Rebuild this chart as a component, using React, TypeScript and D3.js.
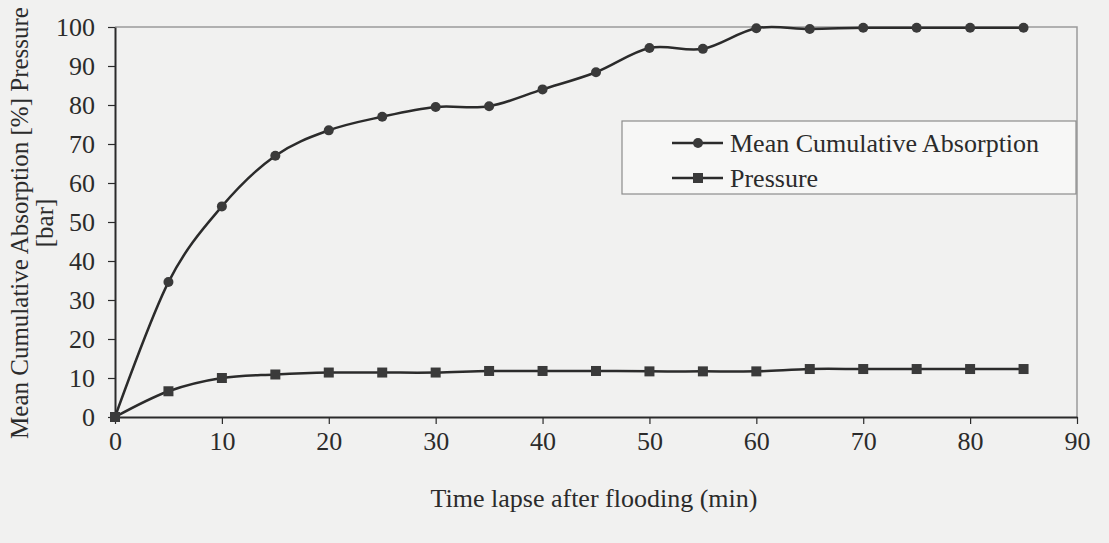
import React, { useEffect, useRef } from 'react';
import * as d3 from 'd3';

// time lapse after flooding (min)
const minutes = [0, 5, 10, 15, 20, 25, 30, 35, 40, 45, 50, 55, 60, 65, 70, 75, 80, 85];
// mean cumulative absorption [%]
const absorption = [0, 34.6, 54, 67, 73.5, 77, 79.5, 79.7, 84, 88.4, 94.6, 94.4, 99.7, 99.5, 99.8, 99.8, 99.8, 99.8];
// pressure [bar]
const pressure = [0, 6.6, 10, 10.9, 11.4, 11.4, 11.4, 11.8, 11.8, 11.8, 11.7, 11.7, 11.7, 12.3, 12.3, 12.3, 12.3, 12.3];

const xTicks = [0, 10, 20, 30, 40, 50, 60, 70, 80, 90];
const yTicks = [0, 10, 20, 30, 40, 50, 60, 70, 80, 90, 100];
const seriesNames = ['Mean Cumulative Absorption', 'Pressure'];

const W = 1109;
const H = 543;
const FONT = '"Liberation Serif", "Times New Roman", serif';
const INK = '#2b2b2b';

const App: React.FC = () => {
  const svgRef = useRef<SVGSVGElement>(null);

  useEffect(() => {
    if (!svgRef.current) return;
    const svg = d3.select(svgRef.current);
    svg.selectAll('*').remove();

    const margin = { top: 27, right: 32, bottom: 126, left: 115 };
    const innerWidth = W - margin.left - margin.right;
    const innerHeight = H - margin.top - margin.bottom;

    svg.append('rect').attr('width', W).attr('height', H).attr('fill', '#f1f1f0');

    const g = svg.append('g').attr('transform', `translate(${margin.left},${margin.top})`);

    const x = d3.scaleLinear().domain([0, 90]).range([0, innerWidth]);
    const y = d3.scaleLinear().domain([0, 100]).range([innerHeight, 0]);

    // plot frame (top and right)
    g.append('path')
      .attr('d', `M0,0H${innerWidth}V${innerHeight}`)
      .attr('fill', 'none')
      .attr('stroke', '#9a9a9a')
      .attr('stroke-width', 1.5);

    // Axes
    const xAxis = g.append('g')
      .attr('transform', `translate(0,${innerHeight})`)
      .call(d3.axisBottom(x).tickValues(xTicks).tickSize(7).tickSizeOuter(0).tickPadding(8));
    const yAxis = g.append('g')
      .call(d3.axisLeft(y).tickValues(yTicks).tickSize(7).tickSizeOuter(0).tickPadding(13));

    [xAxis, yAxis].forEach(ax => {
      ax.select('.domain').attr('stroke', INK).attr('stroke-width', 2);
      ax.selectAll('.tick line').attr('stroke', INK).attr('stroke-width', 1.2);
      ax.selectAll('text')
        .attr('fill', INK)
        .style('font-family', FONT)
        .style('font-size', '26px');
    });
    yAxis.selectAll('text').attr('dy', '0.33em');

    const line = d3.line<number>()
      .x((_, i) => x(minutes[i]))
      .y(d => y(d))
      .curve(d3.curveCatmullRom.alpha(0));

    // Absorption
    g.append('path')
      .datum(absorption)
      .attr('d', line)
      .attr('fill', 'none')
      .attr('stroke', INK)
      .attr('stroke-width', 2.5);
    g.selectAll('.dot')
      .data(absorption)
      .enter()
      .append('circle')
      .attr('class', 'dot')
      .attr('cx', (_, i) => x(minutes[i]))
      .attr('cy', d => y(d))
      .attr('r', 5)
      .attr('fill', '#3a3a3a');

    // Pressure
    g.append('path')
      .datum(pressure)
      .attr('d', line)
      .attr('fill', 'none')
      .attr('stroke', INK)
      .attr('stroke-width', 2.5);
    g.selectAll('.sq')
      .data(pressure)
      .enter()
      .append('rect')
      .attr('class', 'sq')
      .attr('x', (_, i) => x(minutes[i]) - 5)
      .attr('y', d => y(d) - 5)
      .attr('width', 10)
      .attr('height', 10)
      .attr('fill', '#3a3a3a');

    // Legend
    const legend = svg.append('g').attr('transform', 'translate(622,121)');
    legend.append('rect')
      .attr('width', 454)
      .attr('height', 73)
      .attr('fill', '#f7f7f6')
      .attr('stroke', '#8c8c8c')
      .attr('stroke-width', 1.2);
    seriesNames.forEach((name, i) => {
      const row = legend.append('g').attr('transform', `translate(0,${22 + i * 35})`);
      row.append('line')
        .attr('x1', 50).attr('x2', 101)
        .attr('stroke', INK).attr('stroke-width', 2.5);
      if (i === 0) {
        row.append('circle').attr('cx', 76).attr('r', 5).attr('fill', '#3a3a3a');
      } else {
        row.append('rect').attr('x', 71).attr('y', -5).attr('width', 10).attr('height', 10).attr('fill', '#3a3a3a');
      }
      row.append('text')
        .attr('x', 108)
        .attr('dy', '0.33em')
        .attr('fill', INK)
        .style('font-family', FONT)
        .style('font-size', '26px')
        .text(name);
    });

    // Axis titles
    svg.append('text')
      .attr('x', margin.left + innerWidth / 2 - 2)
      .attr('y', 507)
      .attr('text-anchor', 'middle')
      .attr('fill', INK)
      .style('font-family', FONT)
      .style('font-size', '26px')
      .text('Time lapse after flooding (min)');

    const yTitle = svg.append('text')
      .attr('transform', `translate(28,${margin.top + innerHeight / 2 + 1}) rotate(-90)`)
      .attr('text-anchor', 'middle')
      .attr('fill', INK)
      .style('font-family', FONT)
      .style('font-size', '25px');
    yTitle.append('tspan').attr('x', 0).attr('dy', 0).text('Mean Cumulative Absorption [%] Pressure');
    yTitle.append('tspan').attr('x', 0).attr('dy', '1.0em').text('[bar]');
  }, []);

  return (
    <svg
      ref={svgRef}
      width={W}
      height={H}
      style={{ position: 'absolute', left: 0, top: 0, display: 'block' }}
    />
  );
};

export default App;
